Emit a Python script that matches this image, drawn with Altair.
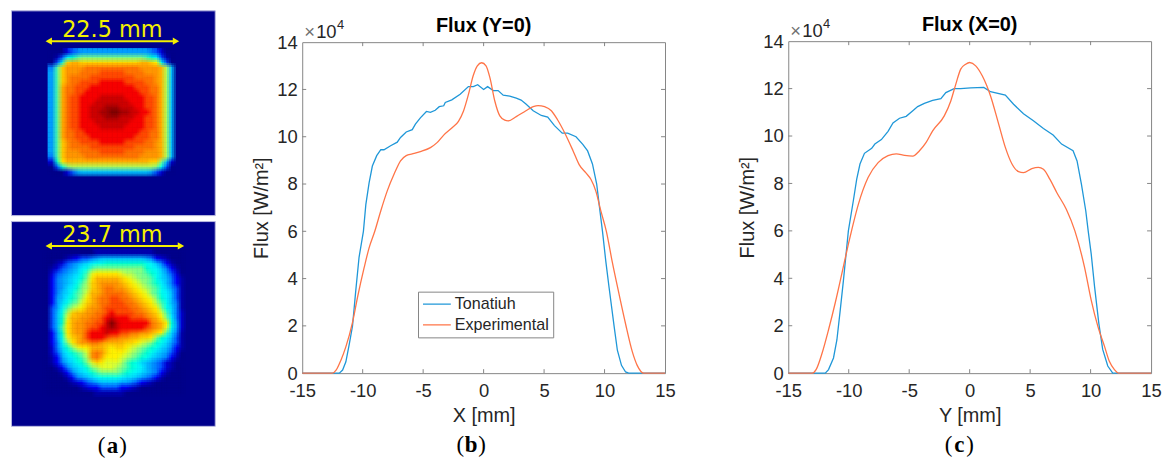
import altair as alt
import pandas as pd

# ---- line data (x in mm, flux in 1e4 W/m2) ----
B_TON_X = [-15,-12.5,-11.93,-11.66,-11.39,-11.1,-10.84,-10.57,-10.3,-9.94,-9.74,-9.47,-9.2,-8.84,-8.5,-8.24,-7.69,-7.14,-6.87,-6.4,-5.9,-5.64,-5.23,-4.73,-4.4,-4,-3.67,-3.3,-3.17,-2.63,-1.94,-1.26,-.85,-.49,0,.33,.8,1.2,1.62,2.16,2.7,3.1,3.5,4.1,4.77,5.3,5.86,6.5,6.95,7.64,8.2,8.6,9,9.35,9.55,9.83,10.1,10.38,10.8,11.06,11.4,11.74,12,15]
B_TON_Y = [0,0,0,.13,.48,1.25,2,3.5,4.9,6,7.13,8.05,8.76,9.2,9.45,9.45,9.62,9.77,9.97,10.2,10.3,10.53,10.8,11.07,11.03,11.12,11.27,11.31,11.45,11.56,11.8,12.12,12.12,12.2,12,12.12,11.95,11.95,11.76,11.72,11.63,11.55,11.38,11.1,10.9,10.83,10.47,10.15,10.15,10,9.68,9.4,8.85,8,7.15,6,4.75,3.6,1.95,.97,.33,.05,0,0]
B_EXP_X = [-15,-12.5,-12.2,-11.8,-11.4,-10.84,-10.43,-9.88,-9.47,-9,-8.5,-7.96,-7.4,-6.87,-6.4,-5.9,-5.23,-4.4,-3.85,-3.3,-2.63,-2.08,-1.67,-1.26,-.85,-.52,-.16,.2,.52,.93,1.34,1.75,2.03,2.7,3.5,4.1,4.5,5.04,5.6,6.1,6.7,7.4,7.9,8.46,8.87,9.28,9.7,10.15,10.65,11.2,11.74,12.3,12.7,13.25,15]
B_EXP_Y = [0,0,.13,.55,1.1,2.15,3.2,4.46,5.3,6,6.87,7.72,8.42,8.98,9.2,9.27,9.37,9.54,9.75,10.07,10.37,10.65,11.08,11.78,12.6,13,13.13,13,12.5,11.5,10.88,10.7,10.67,10.85,11.1,11.27,11.32,11.27,11.1,10.73,10.17,9.4,8.82,8.47,8.2,7.7,6.85,6,4.67,3.34,2.08,.9,.33,0,0]
C_TON_X = [-15,-11.94,-11.67,-11.26,-10.98,-10.7,-10.44,-10.03,-9.62,-9.34,-9.07,-8.7,-8.1,-7.84,-7.3,-6.75,-6.34,-5.8,-5.25,-4.7,-4.3,-3.75,-3.06,-2.38,-1.97,-1.28,-.74,.08,1.17,1.72,2.95,3.63,4.45,5.27,6.1,6.9,7.6,8.55,8.88,9.24,9.6,9.8,10.05,10.33,10.68,11,11.42,11.83,15]
C_TON_Y = [0,0,.15,.64,1.4,2.67,3.9,6,7.27,8.18,8.82,9.27,9.48,9.66,9.85,10.2,10.55,10.75,10.83,11.07,11.24,11.38,11.5,11.58,11.83,12,12,12.03,12.05,11.87,11.73,11.34,10.94,10.64,10.32,10.04,9.66,9.38,8.95,7.97,6.85,6,5.03,3.64,2.1,1,.3,0,0]
C_EXP_X = [-15,-13.03,-12.7,-12.2,-11.67,-11.1,-10.57,-10.03,-9.7,-9.2,-8.4,-7.57,-6.75,-6.07,-5.38,-4.7,-4.15,-3.6,-3.06,-2.1,-1.56,-1.15,-.74,-.33,0,.5,1.04,1.72,2.4,2.95,3.5,4.04,4.45,5.14,5.68,6.1,6.64,7.2,8,8.7,9.5,10.05,10.6,11.15,11.55,11.97,12.33,15]
C_EXP_Y = [0,0,.15,.85,1.83,3,4.2,5.44,6.15,7.13,8.25,8.88,9.17,9.25,9.18,9.15,9.38,9.73,10.22,10.85,11.48,12.18,12.82,13.03,13.1,12.96,12.54,11.7,10.5,9.52,8.82,8.5,8.46,8.63,8.68,8.6,8.17,7.62,6.9,6,4.46,3.08,1.97,1.13,.5,.15,0,0]
X_TICKS = [-15,-10,-5,0,5,10,15]
Y_TICKS = [0,2,4,6,8,10,12,14]
SERIES = ["Tonatiuh", "Experimental"]

# ---- heat maps: one letter per 5px cell, a=0 ... z=1 of the jet scale ----
LEVELS = "abcdefghijklmnopqrstuvwxyz"
HEAT_TOP = [
"aaacefggggggggggggggfecaa","abejlmnnnnnnnnnnnnnmljeba","aekrssrrrrrrrrrrrrssrqkea",
"fmrttttuuuuuuuuuuuttttsoh","gmrtttuuuuvvvvvuuuutttsoh","gmrtuuuuvvvvvvvvvuuuutsoh",
"gmrtuuvvvvwwwwwvvvvuutsoh","gmsuuvvvwwwwwwwwwvvvuusoh","gmsuuvvwwwwwwwwwwwvvuusoh",
"gmsuvvwwwwxxxxxwwwwvvusoh","gmsuvvwwwxxxxxxxwwwvvusoh","gmsuvvwwxxxyyyxxxwwvvusoh",
"gmsuvvwwxxyyzzyyxxwwvusoh",
"gmsuvvwwxxxyyyxxxwwvvusoh","gmsuvvwwwxxxxxxxwwwvvusoh","gmsuvvwwwwxxxxxwwwwvvusoh",
"gmsuuvvwwwwwwwwwwwvvuusoh","gmsuuvvvwwwwwwwwwvvvuusoh","gmrtuuvvvvwwwwwvvvvuutsoh",
"gmrtuuuuvvvvvvvvvuuuutsoh","gmrtttuuuuvvvvvuuuutttsoh","fmrttttuuuuuuuuuuuttttsoh",
"clqsssssssssssssssssrrnhc","aeknooooooooooooooooonkea","aaaceghhhhhhhhhhhhhhgecaa",
]
HEAT_BOT = [
"aaaaaaaaaabbbbbbbbbbbbaaaaaa","aaaabcdeefghhhhhhhhhgfdcbaaa","aabcefghijkkllllllllkjhfdbaa",
"abcefghjkmnnnnnnnnnnlkjhfdba","acefghikmpqqqqqpoonnmlkigeca","adfghijlnqsssssrqponnmkihfdb",
"adfghikmorsttttsrqponmljhfdb","adfgijlnorstuuttsrqponmkigeb","adfhikmnpsstuuuutsrqpnmkjheb",
"adghjlmoqstuuvvuutsrqpnljheb","adgikmnprstuuvvvuutsrqomkhfb","aegjmopqsttuvvvvvuutsrqnkifb",
"aehkorssttuuvwvvvvuutsrpmifc","aehlpssttuuvwxwwwvvvutsqnjfc","aehlqsttuuvvxzxwwwwwwutsqlgc",
"aehmqsttuvvwxyxwwwwwvutspkgc","adglqsttvwwwxwwvvuuttsrqmifb","adgkprstvwwwvuuttssrrqnljheb",
"adfjnqsttuutssssrrqponlkigeb","acfilnpqqsssrqrrqponmlkihfdb","acehjlmnptutrqqqponmlkihgeca",
"abdgijlmotusqqqponmlkihgfdba","abdfhiklnprqpppomlkihgfecba","aabdfhijlnopppon"+"mlkjhgfecbaa",
"aaabdfhijlmnnnnmlkjihgfdbaaa","aaaabdfghijkkkkjiihgfedbaaaa","aaaaabcdefghhhhggfedcbaaaaaa",
"aaaaaaabcddeeeeddcbaaaaaaaaa","aaaaaaaaaabbbbbbaaaaaaaaaaaa",
]

FONT = "Liberation Sans"
BLUE = "#1f97d8"
ORANGE = "#ff7447"
GRAY = "#858585"
INK = "#262626"
YELLOW = "#f4f000"
DARK = "#00008c"
JET_D = [0, .125, .375, .625, .875, 1]
JET_R = [DARK, "#0000ff", "#00ffff", "#ffff00", "#ff0000", "#7f0000"]
CELL = 5
PW = 365
SOFT = [-2, 0, 2]   # the same cells are drawn a few times, slightly shifted and see-through, to soften their edges


def cells(rows, x0, y0):
    out = []
    for r, row in enumerate(rows):
        for c, ch in enumerate(row):
            out.append({"x": x0 + c * CELL, "x2": x0 + (c + 1) * CELL,
                        "y": y0 + r * CELL, "y2": y0 + (r + 1) * CELL,
                        "v": LEVELS.index(ch) / 25})
    return pd.DataFrame(out)


def caption(letter, cx, y):
    base = alt.Chart(pd.DataFrame({"a": [0]}))
    size = 23
    kw = dict(font="Liberation Serif", fontSize=size, color="black", baseline="alphabetic")
    return (
        base.mark_text(text="(", align="right", **kw).encode(x=alt.value(cx - 7), y=alt.value(y))
        + base.mark_text(text=letter, fontWeight="bold", align="center", **kw).encode(x=alt.value(cx), y=alt.value(y))
        + base.mark_text(text=")", align="left", **kw).encode(x=alt.value(cx + 7), y=alt.value(y))
    )


def heat(rows, x0, y0, label, ax1, ax2, ay, ty, extra=None):
    w, h = 205, 206
    xs = alt.Scale(domain=[0, w], range=[0, w])
    ys = alt.Scale(domain=[0, h], range=[0, h])
    layers = []
    n = 0
    for dx in SOFT:
        for dy in SOFT:
            n += 1
            layers.append(alt.Chart(cells(rows, x0 + dx, y0 + dy)).mark_rect(strokeWidth=0, opacity=1 / n).encode(
                x=alt.X("x:Q", scale=xs, axis=None), x2="x2:Q",
                y=alt.Y("y:Q", scale=ys, axis=None), y2="y2:Q",
                color=alt.Color("v:Q", legend=None, scale=alt.Scale(domain=JET_D, range=JET_R)),
            ))
    arrow = pd.DataFrame({"x": [ax1], "x2": [ax2], "y": [ay]})
    line = alt.Chart(arrow).mark_rule(color=YELLOW, strokeWidth=2).encode(
        x=alt.X("x:Q", scale=xs, axis=None), x2="x2:Q", y=alt.Y("y:Q", scale=ys, axis=None))
    left = alt.Chart(arrow).mark_point(shape="triangle-left", filled=True, color=YELLOW, size=55, opacity=1).encode(
        x=alt.X("x:Q", scale=xs, axis=None), y=alt.Y("y:Q", scale=ys, axis=None))
    right = alt.Chart(arrow).mark_point(shape="triangle-right", filled=True, color=YELLOW, size=55, opacity=1).encode(
        x=alt.X("x2:Q", scale=xs, axis=None), y=alt.Y("y:Q", scale=ys, axis=None))
    txt = alt.Chart(pd.DataFrame({"x": [102], "y": [ty], "t": [label]})).mark_text(
        font="DejaVu Sans", fontSize=22.5, color=YELLOW, baseline="alphabetic").encode(
        x=alt.X("x:Q", scale=xs, axis=None), y=alt.Y("y:Q", scale=ys, axis=None), text="t:N")
    parts = layers + [line, left, right, txt]
    if extra is not None:
        parts.append(extra)
    return alt.layer(*parts).properties(
        width=w, height=h, view=alt.ViewBackground(fill=DARK, stroke="#b9b9e0", strokeWidth=1))


def flux(title, xlabel, x1, y1, x2, y2, legend, cap_letter, cap_x, ph):
    xs = alt.Scale(domain=[-15, 15], nice=False)
    ys = alt.Scale(domain=[0, 14], nice=False)
    col = alt.Scale(domain=SERIES, range=[BLUE, ORANGE])
    lab = "'' + datum.value"
    xax = alt.Axis(values=X_TICKS, title=xlabel, labelExpr=lab, grid=False, ticks=False, domain=False,
                   labelFont=FONT, labelFontSize=18.5, labelColor=INK, labelPadding=8,
                   titleFont=FONT, titleFontSize=20, titleColor=INK, titleFontWeight="normal", titlePadding=6, labelFlush=False)
    yax = alt.Axis(values=Y_TICKS, title="Flux [W/m²]", labelExpr=lab, grid=False, ticks=False, domain=False,
                   labelFont=FONT, labelFontSize=18.5, labelColor=INK, labelPadding=5,
                   titleFont=FONT, titleFontSize=20, titleColor=INK, titleFontWeight="normal", titlePadding=5)
    leg = None
    if legend:
        leg = alt.Legend(orient="none", legendX=116.5, legendY=283, title=None, symbolType="stroke",
                         symbolSize=784, symbolStrokeWidth=1.3, labelFont=FONT, labelFontSize=16.2, labelColor=INK,
                         fillColor="white", strokeColor=GRAY, padding=4, rowPadding=4, clipHeight=17, labelOffset=3)
    d1 = pd.DataFrame({"x": x1, "y": y1, "s": SERIES[0]})
    d2 = pd.DataFrame({"x": x2, "y": y2, "s": SERIES[1]})
    enc = dict(x=alt.X("x:Q", scale=xs, axis=xax), y=alt.Y("y:Q", scale=ys, axis=yax),
               color=alt.Color("s:N", scale=col, legend=leg))
    l1 = alt.Chart(d1).mark_line(strokeWidth=1.3, clip=False).encode(**enc)
    l2 = alt.Chart(d2).mark_line(strokeWidth=1.3, interpolate="monotone", clip=False).encode(**enc)
    xt = alt.Chart(pd.DataFrame({"t": X_TICKS[1:-1]}))
    yt = alt.Chart(pd.DataFrame({"t": Y_TICKS[1:-1]}))
    tk = dict(color=GRAY, strokeWidth=1)
    ticks = [
        xt.mark_rule(**tk).encode(x=alt.X("t:Q", scale=xs), y=alt.value(0), y2=alt.value(4)),
        xt.mark_rule(**tk).encode(x=alt.X("t:Q", scale=xs), y=alt.value(ph - 4), y2=alt.value(ph)),
        yt.mark_rule(**tk).encode(y=alt.Y("t:Q", scale=ys), x=alt.value(0), x2=alt.value(4)),
        yt.mark_rule(**tk).encode(y=alt.Y("t:Q", scale=ys), x=alt.value(PW - 4), x2=alt.value(PW)),
    ]
    base = alt.Chart(pd.DataFrame({"a": [0]}))
    kw = dict(font=FONT, align="left", baseline="alphabetic")
    mult = (
        base.mark_text(text="×", fontSize=18.5, color="#707070", **kw).encode(x=alt.value(2), y=alt.value(-4))
        + base.mark_text(text="10", fontSize=18.5, color=INK, **kw).encode(x=alt.value(14), y=alt.value(-4))
        + base.mark_text(text="4", fontSize=13, color=INK, **kw).encode(x=alt.value(35), y=alt.value(-13))
        + base.mark_text(text=title, font=FONT, fontSize=20, fontWeight="bold", color="black", align="center", baseline="alphabetic").encode(
            x=alt.value(PW / 2), y=alt.value(-10))
    )
    return alt.layer(*ticks, l1, l2, mult, caption(cap_letter, cap_x, ph + 79)).properties(
        width=PW, height=ph,
        view=alt.ViewBackground(stroke=GRAY, strokeWidth=1, fill="white"))


def spacer(h):
    return alt.Chart(pd.DataFrame({"a": [0]})).mark_rule(opacity=0).encode(
        x=alt.value(0), y=alt.value(0), y2=alt.value(h)).properties(width=1, height=h, view=alt.ViewBackground(stroke="transparent"))


h1 = heat(HEAT_TOP, 39, 40, "22.5 mm", 38, 166, 31, 27)
h2 = heat(HEAT_BOT, 34, 30, "23.7 mm", 38, 171, 25, 21, caption("a", 102, 233))
panel_a = alt.vconcat(h1, h2, spacing=4)
panel_b = alt.vconcat(spacer(1), flux("Flux (Y=0)", "X [mm]", B_TON_X, B_TON_Y, B_EXP_X, B_EXP_Y, True, "b", 170, 333), spacing=3)
panel_c = alt.vconcat(spacer(1), flux("Flux (X=0)", "Y [mm]", C_TON_X, C_TON_Y, C_EXP_X, C_EXP_Y, False, "c", 172, 334), spacing=2)
chart = alt.hconcat(panel_a, alt.hconcat(panel_b, panel_c, spacing=61), spacing=35).resolve_scale(color="independent").properties(
    padding={"left": 2, "top": 0, "right": 0, "bottom": 0}
).configure_view(strokeWidth=1)
chart.save("out.html", embed_options={"renderer": "svg", "actions": False})
